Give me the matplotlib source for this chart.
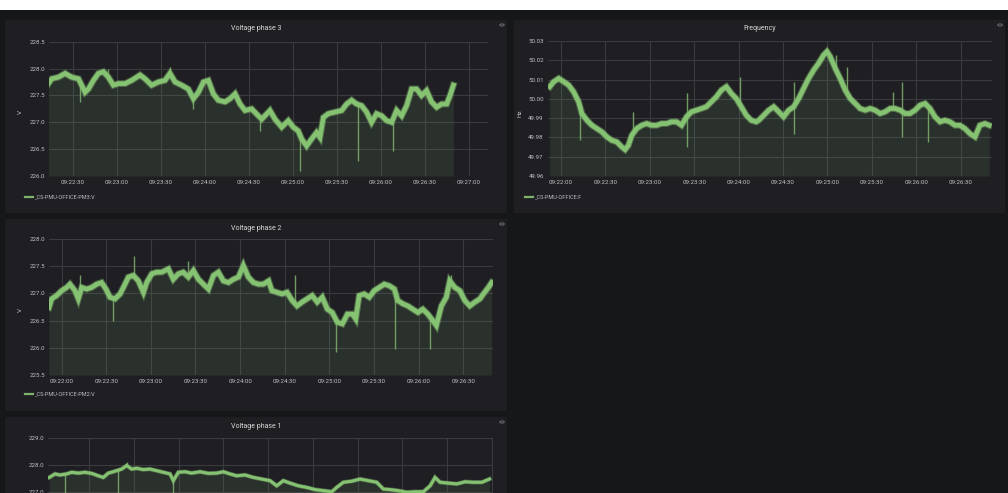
import matplotlib

matplotlib.use("Agg")

import matplotlib.pyplot as plt
import numpy as np
from matplotlib.lines import Line2D
from matplotlib.patches import Circle, Rectangle
from matplotlib.ticker import FuncFormatter, MultipleLocator

plt.rcParams["font.family"] = ["Roboto", "DejaVu Sans"]

W, H = 1008, 493
BG = "#161719"
PANEL = "#1f1f23"
GRID = "#3a3b3f"
TEXT = "#bfc1c4"
GREEN = "#7eb26d"

# seconds after 09:22:00 for every series
phase3_t = [13.2, 15.5, 20.0, 24.6, 29.1, 33.7, 35.9, 38.2, 40.5, 43.9,
            47.3, 50.7, 54.1, 57.5, 60.9, 65.5, 70.0, 75.7, 79.1, 83.6,
            88.2, 92.7, 96.1, 99.6, 104.1, 108.6, 112.1, 115.5, 118.9, 122.3,
            125.7, 129.1, 133.7, 137.1, 140.5, 143.9, 147.3, 151.8, 156.4, 158.7,
            164.3, 167.7, 172.3, 176.8, 180.2, 183.6, 185.9, 189.3, 192.7, 196.1,
            198.4, 200.7, 204.1, 208.6, 213.2, 216.6, 220.0, 223.4, 226.8, 230.2,
            233.6, 237.0, 240.5, 243.9, 247.3, 250.7, 254.1, 257.5, 260.9, 264.3,
            267.7, 271.1, 274.5, 278.0, 281.4, 284.8, 287.1, 289.4]
phase3_v = [227.72, 227.81, 227.84, 227.91, 227.84, 227.81, 227.69, 227.56, 227.62, 227.78,
            227.91, 227.94, 227.84, 227.69, 227.72, 227.72, 227.78, 227.88, 227.81, 227.69,
            227.75, 227.78, 227.91, 227.75, 227.69, 227.62, 227.44, 227.56, 227.75, 227.78,
            227.53, 227.41, 227.38, 227.44, 227.53, 227.34, 227.22, 227.25, 227.12, 227.06,
            227.22, 227.06, 226.91, 227.03, 226.91, 226.84, 226.69, 226.56, 226.69, 226.81,
            226.72, 227.09, 227.16, 227.19, 227.22, 227.34, 227.41, 227.34, 227.31, 227.19,
            227.00, 227.16, 227.12, 227.03, 227.00, 227.22, 227.12, 227.31, 227.62, 227.62,
            227.50, 227.59, 227.38, 227.28, 227.34, 227.34, 227.50, 227.69]
phase3_spike_t = [34.8, 54.1, 96.1, 112.1, 157.5, 184.8, 224.1, 248.0]
phase3_spike_v = [227.38, 228.00, 228.03, 227.25, 226.84, 226.09, 226.28, 226.47]

freq_t = [-7.6, -4.9, -1.6, 1.8, 5.2, 8.5, 11.9, 14.1, 17.5, 20.9,
          24.2, 27.6, 31.0, 34.3, 37.7, 41.0, 43.3, 45.5, 47.8, 51.1,
          54.5, 57.9, 61.2, 64.6, 68.0, 71.3, 74.7, 78.1, 81.4, 84.8,
          88.2, 91.5, 94.9, 98.2, 101.6, 105.0, 108.3, 111.7, 115.1, 118.4,
          121.8, 125.2, 128.5, 131.9,
          133.6, 137.0, 140.3, 143.7, 147.1, 150.4, 153.8, 157.2, 160.6, 163.9,
          167.3, 170.7, 174.0, 177.4, 179.7, 181.9, 185.3, 188.6, 192.0, 195.4,
          198.8, 202.1, 205.5, 208.9, 212.2, 215.6, 219.0, 222.4, 225.7, 229.1,
          232.5, 235.8, 239.2, 242.6, 246.0, 249.3, 252.7, 256.1, 259.4, 262.8,
          266.2, 269.5, 272.9, 276.3, 279.7, 283.0, 286.4, 289.3]
freq_v = [50.0063, 50.0089, 50.0106, 50.0089, 50.0071, 50.0037, 49.9985, 49.9924, 49.9889, 49.9863,
          49.9846, 49.9829, 49.9803, 49.9785, 49.9777, 49.9751, 49.9737, 49.9759, 49.9811, 49.9846,
          49.9863, 49.9872, 49.9863, 49.9863, 49.9872, 49.9872, 49.9881, 49.9881, 49.9863, 49.9907,
          49.9933, 49.9941, 49.9950, 49.9959, 49.9985, 50.0011, 50.0045, 50.0063, 50.0028, 50.0002,
          49.9959, 49.9915, 49.9889, 49.9881,
          49.9889, 49.9915, 49.9941, 49.9959, 49.9933, 49.9907, 49.9941, 49.9959, 50.0002, 50.0054,
          50.0106, 50.0149, 50.0184, 50.0227, 50.0245, 50.0219, 50.0158, 50.0106, 50.0046, 50.0002,
          49.9976, 49.9950, 49.9941, 49.9950, 49.9941, 49.9924, 49.9933, 49.9950, 49.9950, 49.9941,
          49.9924, 49.9924, 49.9941, 49.9967, 49.9976, 49.9950, 49.9907, 49.9881, 49.9889, 49.9881,
          49.9863, 49.9863, 49.9846, 49.9820, 49.9803, 49.9863, 49.9872, 49.9863]
freq_spike_t = [13.0, 48.9, 85.2, 85.2, 120.7, 157.2, 157.2, 186.0, 193.1, 224.6, 230.2, 230.2, 247.7]
freq_spike_v = [49.9785, 49.9932, 50.0028, 49.9750, 50.0115, 50.0089, 49.9820, 50.0227,
                50.0167, 50.0037, 50.0089, 49.9803, 49.9777]

phase2_t = [-8.5, -6.7, -3.4, 0.0, 3.4, 5.6, 9.0, 11.2, 13.5, 16.8,
            20.2, 23.6, 26.9, 29.8, 32.5, 35.9, 39.3, 41.5, 44.9, 48.2,
            51.6, 55.0, 57.2, 60.6, 63.9, 67.3, 71.8, 75.1, 78.5, 81.8,
            85.2, 88.6, 92.0, 95.3, 98.7, 102.1, 105.4, 108.8, 112.2, 115.5,
            118.9, 122.2, 125.6, 129.0, 132.3, 135.7,
            139.2, 141.4, 144.8, 148.2, 151.6, 155.0, 158.3, 161.7, 165.1, 168.5,
            171.9, 175.3, 178.7, 182.0, 185.4, 188.8, 192.2, 195.6, 197.8, 200.1,
            203.5, 206.9, 210.2, 213.6, 217.0, 220.4, 223.8, 226.0, 229.4, 232.8,
            236.2, 239.6, 242.9, 246.3, 249.7, 252.0, 255.4, 258.7, 261.0, 264.4,
            267.8, 271.1, 274.5, 277.9, 281.3, 283.6, 287.0, 289.2]
phase2_v = [226.74, 226.90, 226.96, 227.05, 227.11, 227.17, 227.05, 226.90, 227.11, 227.08,
            227.11, 227.17, 227.20, 227.08, 226.93, 226.90, 226.99, 227.11, 227.30, 227.33,
            227.23, 227.02, 227.20, 227.36, 227.39, 227.39, 227.45, 227.26, 227.36, 227.39,
            227.30, 227.42, 227.26, 227.17, 227.08, 227.33, 227.39, 227.23, 227.20, 227.26,
            227.30, 227.51, 227.30, 227.20, 227.17, 227.17,
            227.23, 227.05, 227.02, 226.99, 227.02, 226.87, 226.77, 226.84, 226.90, 226.96,
            226.84, 226.93, 226.71, 226.65, 226.47, 226.44, 226.62, 226.62, 226.53, 226.96,
            226.99, 226.93, 227.05, 227.11, 227.17, 227.14, 227.08, 226.87, 226.81, 226.77,
            226.71, 226.65, 226.71, 226.62, 226.50, 226.41, 226.77, 226.93, 227.23, 227.11,
            227.05, 226.87, 226.77, 226.84, 226.90, 226.99, 227.11, 227.20]
phase2_spike_t = [12.3, 34.8, 48.7, 85.2, 122.2, 156.8, 184.7, 224.5, 247.9, 261.7]
phase2_spike_v = [227.33, 226.49, 227.69, 227.60, 227.63, 227.33, 225.92, 225.98, 225.98, 227.33]

phase1_t = [3.2, 7.0, 10.3, 14.8, 18.2, 22.6, 27.1, 31.6, 36.1, 39.4,
            42.8, 46.1, 51.7, 55.1, 58.4, 61.8, 66.2, 70.7, 75.2, 79.7,
            84.2, 86.4, 89.7, 94.2, 98.7, 104.3, 109.9, 115.5, 120.0, 124.4,
            128.9, 134.5, 140.1, 145.7, 151.3, 155.8, 160.2, 164.7, 170.3, 175.9,
            181.5, 187.1, 192.7, 196.0, 200.5, 206.1, 211.7, 217.3, 222.9, 227.3,
            231.8, 237.4, 243.0, 248.6, 254.2, 258.7, 262.0, 265.4, 271.0, 276.6,
            282.2, 287.8, 293.4, 298.5]
phase1_v = [227.54, 227.67, 227.63, 227.67, 227.73, 227.70, 227.73, 227.69, 227.60, 227.54,
            227.70, 227.75, 227.85, 227.98, 227.85, 227.88, 227.83, 227.85, 227.79, 227.73,
            227.67, 227.42, 227.73, 227.75, 227.70, 227.75, 227.69, 227.70, 227.75, 227.67,
            227.60, 227.63, 227.54, 227.48, 227.42, 227.23, 227.42, 227.33, 227.23, 227.17,
            227.09, 227.05, 227.01, 227.17, 227.36, 227.40, 227.48, 227.42, 227.36, 227.11,
            227.09, 227.05, 226.99, 227.01, 227.01, 227.23, 227.54, 227.36, 227.33, 227.30,
            227.38, 227.36, 227.36, 227.48]
phase1_spike_t = [13.7, 49.5, 55.0, 86.0]
phase1_spike_v = [226.50, 226.50, 228.10, 226.50]


def box(x0, y0, x1, y1):
    """Pixel box (top-left origin) to figure fraction rect."""
    return [x0 / W, 1 - y1 / H, (x1 - x0) / W, (y1 - y0) / H]


def clock(sec, pos=None):
    total = 9 * 3600 + 22 * 60 + int(round(sec))
    return f"{total // 3600:02d}:{total % 3600 // 60:02d}:{total % 60:02d}"


def draw_panel(fig, panel_px, plot_px, title, t, v, spike_t, spike_v, ylim, ystep,
               yfmt, xlim, ylabel=None, ylabel_px=None, legend=None, lw=3.4,
               show_x=True):
    x0, y0, x1, y1 = panel_px
    rx, ry, rw, rh = box(x0, y0, x1, y1)
    fig.add_artist(Rectangle((rx, ry), rw, rh, transform=fig.transFigure,
                             facecolor=PANEL, edgecolor="none", zorder=-1))
    fig.text((x0 + x1) / 2 / W, 1 - (y0 + 9) / H, title, color="#d8d9da",
             fontsize=5.0, ha="center", va="center")
    fig.add_artist(Circle(((x1 - 5) / W, 1 - (y0 + 5) / H), 2.2 / W,
                          transform=fig.transFigure, facecolor="none",
                          edgecolor="#6b6d72", lw=0.7))

    ax = fig.add_axes(box(*plot_px))
    ax.set_facecolor("none")
    t = np.asarray(t)
    v = np.asarray(v)
    ax.fill_between(t, v, ylim[0], color=GREEN, alpha=0.12, lw=0)
    base = np.interp(spike_t, t, v)
    ax.vlines(spike_t, base, spike_v, color=GREEN, lw=1.0, alpha=0.85)
    # wide soft band for the sample noise, then the brighter core
    ax.plot(t, v, color=GREEN, lw=lw * 1.45, alpha=0.45, solid_joinstyle="miter")
    ax.plot(t, v, color="#85c271", lw=lw, solid_joinstyle="miter")

    ax.set_xlim(*xlim)
    ax.set_ylim(*ylim)
    ax.xaxis.set_major_locator(MultipleLocator(30))
    ax.xaxis.set_major_formatter(FuncFormatter(clock))
    ax.yaxis.set_major_locator(MultipleLocator(ystep))
    ax.yaxis.set_major_formatter(FuncFormatter(lambda y, p: yfmt.format(y)))
    ax.grid(True, color=GRID, lw=0.8)
    ax.set_axisbelow(True)
    for spine in ax.spines.values():
        spine.set_visible(False)
    ax.tick_params(length=0, labelsize=4.4, colors=TEXT, pad=3)
    if not show_x:
        ax.tick_params(axis="x", labelbottom=False)

    if ylabel:
        fig.text(ylabel_px[0] / W, 1 - ylabel_px[1] / H, ylabel, color=TEXT,
                 fontsize=4.6, rotation=90, ha="center", va="center")
    if legend:
        lx, ly, label = legend
        fig.add_artist(Line2D([lx / W, (lx + 8) / W], [1 - ly / H, 1 - ly / H],
                              transform=fig.transFigure, color=GREEN, lw=1.6))
        fig.text((lx + 10) / W, 1 - ly / H, label, color=TEXT, fontsize=4.0,
                 ha="left", va="center")
    return ax


fig = plt.figure(figsize=(W / 100, H / 100), dpi=100, facecolor=BG)
fig.add_artist(Rectangle((0, 1 - 9.5 / H), 1, 9.5 / H, transform=fig.transFigure,
                         facecolor="white", edgecolor="none", zorder=-1))

draw_panel(fig, (5, 20, 507, 213), (49, 41.7, 488, 176), "Voltage phase 3",
           phase3_t, phase3_v, phase3_spike_t, phase3_spike_v,
           (226.0, 228.5), 0.5, "{:.1f}", (13.6, 313.0),
           ylabel="V", ylabel_px=(20, 112), legend=(25, 197, "_CS-PMU-OFFICE-PM3:V"))

draw_panel(fig, (514, 20, 1005, 213), (548, 41, 992, 176), "Frequency",
           freq_t, freq_v, freq_spike_t, freq_spike_v,
           (49.96, 50.03), 0.01, "{:.2f}", (-8.8, 291.2),
           ylabel="Hz", ylabel_px=(520, 113), legend=(525, 197, "_CS-PMU-OFFICE:F"))

draw_panel(fig, (5, 219, 507, 411), (49, 239, 493, 375), "Voltage phase 2",
           phase2_t, phase2_v, phase2_spike_t, phase2_spike_v,
           (225.5, 228.0), 0.5, "{:.1f}", (-8.5, 290.1),
           ylabel="V", ylabel_px=(20, 310), legend=(25, 394, "_CS-PMU-OFFICE-PM2:V"))

draw_panel(fig, (5, 417, 507, 520), (48, 438, 493, 573), "Voltage phase 1",
           phase1_t, phase1_v, phase1_spike_t, phase1_spike_v,
           (224.0, 229.0), 1.0, "{:.1f}", (2.3, 300.9), lw=2.2, show_x=False)

fig.savefig("out.png", dpi=100, facecolor=BG)
